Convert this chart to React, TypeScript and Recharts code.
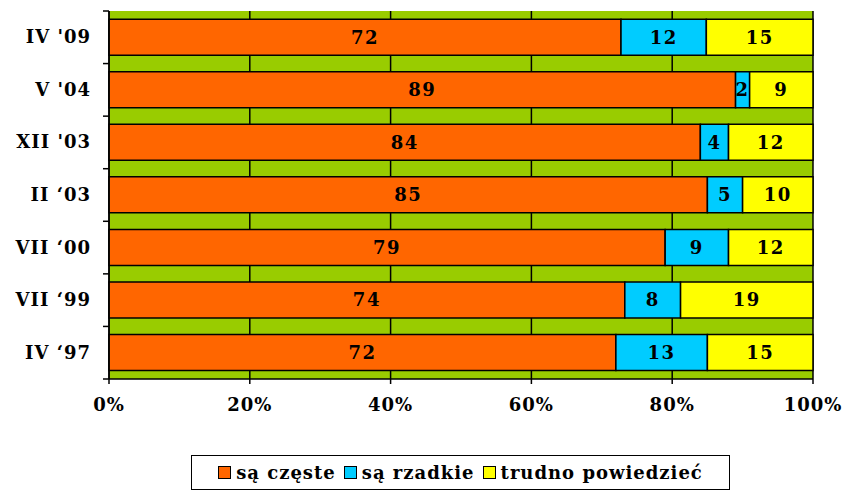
import { BarChart, Bar, XAxis, YAxis, CartesianGrid, LabelList } from 'recharts';

const categories = ["IV '09", "V '04", "XII '03", "II \u201803", "VII \u201800", "VII \u201899", "IV \u201897"];
const czeste = [72, 89, 84, 85, 79, 74, 72];
const rzadkie = [12, 2, 4, 5, 9, 8, 13];
const trudno = [15, 9, 12, 10, 12, 19, 15];
const xTicks = [0, 0.2, 0.4, 0.6, 0.8, 1];

const seriesNames = ['są częste', 'są rzadkie', 'trudno powiedzieć'];
const seriesColors = ['#FF6600', '#00CCFF', '#FFFF00'];

const data = categories.map((label, i) => ({
  label,
  czeste: czeste[i],
  rzadkie: rzadkie[i],
  trudno: trudno[i],
}));

const FONT = '"DejaVu Serif", serif';
const BAND = 368 / categories.length;
const Y_TICK_GAP = 18;

function CategoryTick(props: any) {
  const { x, y, payload, index } = props;
  const ax = x + Y_TICK_GAP;
  return (
    <g>
      <line x1={ax - 6} x2={ax} y1={y - BAND / 2} y2={y - BAND / 2} stroke="#000" strokeWidth={1.5} />
      {index === categories.length - 1 && (
        <line x1={ax - 6} x2={ax} y1={y + BAND / 2} y2={y + BAND / 2} stroke="#000" strokeWidth={1.5} />
      )}
      <text
        x={x}
        y={y}
        dy={6}
        textAnchor="end"
        fontFamily={FONT}
        fontWeight="bold"
        fontSize={18}
        letterSpacing={1}
        fill="#000"
      >
        {payload.value}
      </text>
    </g>
  );
}

const labelStyle = { fontFamily: FONT, fontWeight: 'bold' as const, fontSize: 18, letterSpacing: 1.5 };

export default function App() {
  return (
    <div style={{ position: 'absolute', left: 0, top: 0, width: 852, height: 493, background: '#fff' }}>
      <BarChart
        width={852}
        height={420}
        data={data}
        layout="vertical"
        stackOffset="expand"
        barCategoryGap="15.5%"
        margin={{ top: 11, right: 39, bottom: 1, left: 0 }}
      >
        <CartesianGrid horizontal={false} fill="#99CC00" fillOpacity={1} stroke="#000" strokeWidth={1.5} />
        <XAxis
          type="number"
          domain={[0, 1]}
          ticks={xTicks}
          tickFormatter={(v: number) => `${Math.round(v * 100)}%`}
          axisLine={{ stroke: '#000', strokeWidth: 1.5 }}
          tickLine={{ stroke: '#000', strokeWidth: 1.5 }}
          tickSize={5}
          tickMargin={14}
          height={40}
          tick={{ fill: '#000', fontFamily: FONT, fontWeight: 'bold', fontSize: 18, letterSpacing: 1 }}
        />
        <YAxis
          type="category"
          dataKey="label"
          width={109}
          axisLine={{ stroke: '#000', strokeWidth: 1.5 }}
          tickLine={false}
          tickSize={0}
          tickMargin={Y_TICK_GAP}
          tick={<CategoryTick />}
        />
        <Bar dataKey="czeste" stackId="a" fill={seriesColors[0]} stroke="#000" strokeWidth={1.5} isAnimationActive={false}>
          <LabelList dataKey="czeste" position="center" fill="#000" style={labelStyle} />
        </Bar>
        <Bar dataKey="rzadkie" stackId="a" fill={seriesColors[1]} stroke="#000" strokeWidth={1.5} isAnimationActive={false}>
          <LabelList dataKey="rzadkie" position="center" fill="#000" style={labelStyle} />
        </Bar>
        <Bar dataKey="trudno" stackId="a" fill={seriesColors[2]} stroke="#000" strokeWidth={1.5} isAnimationActive={false}>
          <LabelList dataKey="trudno" position="center" fill="#000" style={labelStyle} />
        </Bar>
      </BarChart>
      <div
        style={{
          position: 'absolute',
          left: 191,
          top: 455,
          width: 539,
          height: 35,
          boxSizing: 'border-box',
          border: '1.5px solid #000',
          display: 'flex',
          alignItems: 'center',
          justifyContent: 'center',
          gap: 8,
          fontFamily: FONT,
          fontWeight: 'bold',
          fontSize: 18,
          letterSpacing: 1,
        }}
      >
        {seriesNames.map((name, i) => (
          <span key={name} style={{ display: 'flex', alignItems: 'center' }}>
            <span
              style={{
                display: 'inline-block',
                width: 11,
                height: 11,
                background: seriesColors[i],
                border: '1.5px solid #000',
                marginRight: 5,
              }}
            />
            {name}
          </span>
        ))}
      </div>
    </div>
  );
}
